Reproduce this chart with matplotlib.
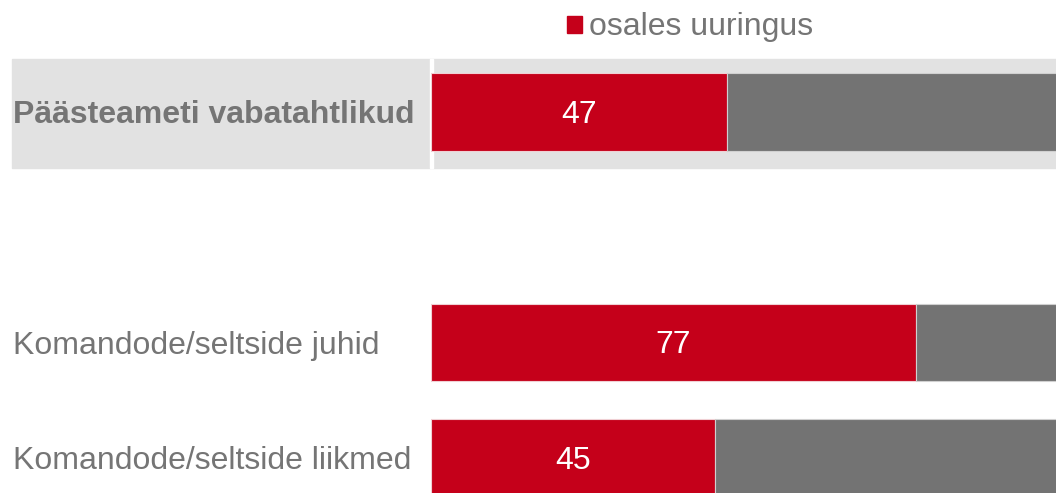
# Horizontal stacked bars: share who took part in the survey
import matplotlib.pyplot as plt
from matplotlib.patches import Rectangle

plt.rcParams['font.family'] = ['Liberation Sans', 'DejaVu Sans']

# data
categories = ["Päästeameti vabatahtlikud", "",
              "Komandode/seltside juhid", "Komandode/seltside liikmed"]
took_part = [47, None, 77, 45]
legend_label = "osales uuringus"

RED = "#C5001A"
GREY = "#737373"
BAND = "#E2E2E2"
TEXT = "#757575"
FS = 23

W, H = 1056, 493
fig = plt.figure(figsize=(W / 100, H / 100), dpi=100)

# grey band behind the first (total) row, spanning label area and plot
fig.patches.append(Rectangle((12 / W, 1 - 168 / H), 1 - 12 / W, 109 / H,
                             transform=fig.transFigure, color=BAND, zorder=-2))
fig.patches.append(Rectangle((430 / W, 1 - 168 / H), 3 / W, 109 / H,
                             transform=fig.transFigure, color="white", zorder=-1))

ax = fig.add_axes([431 / W, 0, 1 - 431 / W, 1])
ax.patch.set_alpha(0)

rows = [i for i, v in enumerate(took_part) if v is not None]
red_vals = [took_part[i] for i in rows]
grey_vals = [100 - v for v in red_vals]

ax.barh(rows, red_vals, height=0.67, color=RED,
        edgecolor="#F0D0D4", linewidth=0.8, label=legend_label)
ax.barh(rows, grey_vals, left=red_vals, height=0.67, color=GREY,
        edgecolor="#D0D0D0", linewidth=0.8)

# value labels, centred in the red segment, nudged down a little
for r, v in zip(rows, red_vals):
    ax.annotate(str(v), (v / 2, r), xytext=(0, -2), textcoords="offset points",
                ha="center", va="center", color="white", fontsize=FS)

ax.set_xlim(0, 100 * (W - 431) / 630)
ax.set_ylim((H - 112) / 115.33, -112 / 115.33)
ax.axis("off")

# category labels at the left edge of the figure
for i, name in enumerate(categories):
    if not name:
        continue
    y = 1 - (115 + 115.33 * i) / H
    fig.text(13 / W, y, name, ha="left", va="center", fontsize=FS, color=TEXT,
             fontweight="bold" if i == 0 else "normal")

# legend
fig.patches.append(Rectangle((567 / W, 1 - 33 / H), 15 / W, 17 / H,
                             transform=fig.transFigure, color=RED))
fig.text(589 / W, 1 - 27 / H, legend_label, ha="left", va="center",
         fontsize=FS, color=TEXT)

fig.savefig("out.png", dpi=100)
